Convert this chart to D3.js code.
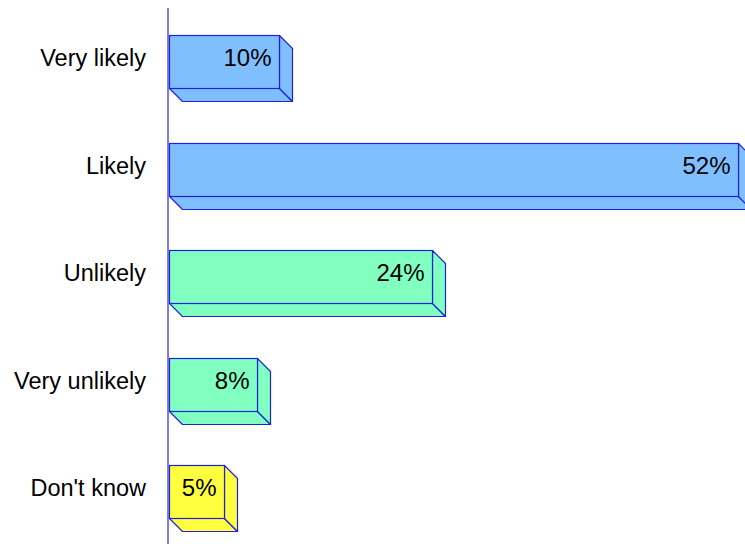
<!DOCTYPE html>
<html>
<head>
<meta charset="utf-8">
<script src="https://cdn.jsdelivr.net/npm/d3@7"></script>
<style>
html,body{margin:0;padding:0;background:#fff;}
svg{display:block;}
text{font-family:"Liberation Sans",Arial,Helvetica,sans-serif;}
</style>
</head>
<body>
<svg id="chart" width="745" height="544"></svg>
<script>
const categories = ["Very likely","Likely","Unlikely","Very unlikely","Don't know"];
const values = [10, 52, 24, 8, 5];
const valueLabels = ["10%","52%","24%","8%","5%"];
const barColors = ["#80bfff","#80bfff","#80ffc0","#80ffc0","#ffff40"];

const svg = d3.select("#chart");
const x0 = 169.5;
const x = d3.scaleLinear().domain([0, 52]).range([x0, 737.5]);
const y = d3.scaleBand().domain(categories).range([35, 518]).paddingInner(0.507).paddingOuter(0);
const depth = 13;
const stroke = "#2020dc";

// axis line
svg.append("line").attr("x1",168).attr("x2",168).attr("y1",8).attr("y2",544)
  .attr("stroke","#7c7ce6").attr("stroke-width",2);

const g = svg.append("g");
categories.forEach((c,i)=>{
  const top = Math.round(y(c))+0.5;
  const h = Math.round(y.bandwidth());
  const bot = top + h;
  const xr = Math.round(x(values[i]))+0.5;
  const col = barColors[i];
  const bar = g.append("g");
  // bottom face
  bar.append("path").attr("d",`M${x0},${bot} L${xr},${bot} L${xr+depth},${bot+depth} L${x0+depth},${bot+depth} Z`)
    .attr("fill",col).attr("stroke",stroke).attr("stroke-width",1.2).attr("stroke-linejoin","round");
  // right face
  bar.append("path").attr("d",`M${xr},${top} L${xr+depth},${top+depth} L${xr+depth},${bot+depth} L${xr},${bot} Z`)
    .attr("fill",col).attr("stroke",stroke).attr("stroke-width",1.2).attr("stroke-linejoin","round");
  // front face
  bar.append("rect").attr("x",x0).attr("y",top).attr("width",xr-x0).attr("height",h)
    .attr("fill",col).attr("stroke",stroke).attr("stroke-width",1.2);
  // value label
  g.append("text").attr("x",xr-8).attr("y",top+h/2-4).attr("dy","0.35em")
    .attr("text-anchor","end").attr("font-size",24).attr("fill","#000").text(valueLabels[i]);
  // category label
  g.append("text").attr("x",146).attr("y",top+h/2-4).attr("dy","0.35em")
    .attr("text-anchor","end").attr("font-size",23.5).attr("fill","#000").text(c);
});
</script>
</body>
</html>
